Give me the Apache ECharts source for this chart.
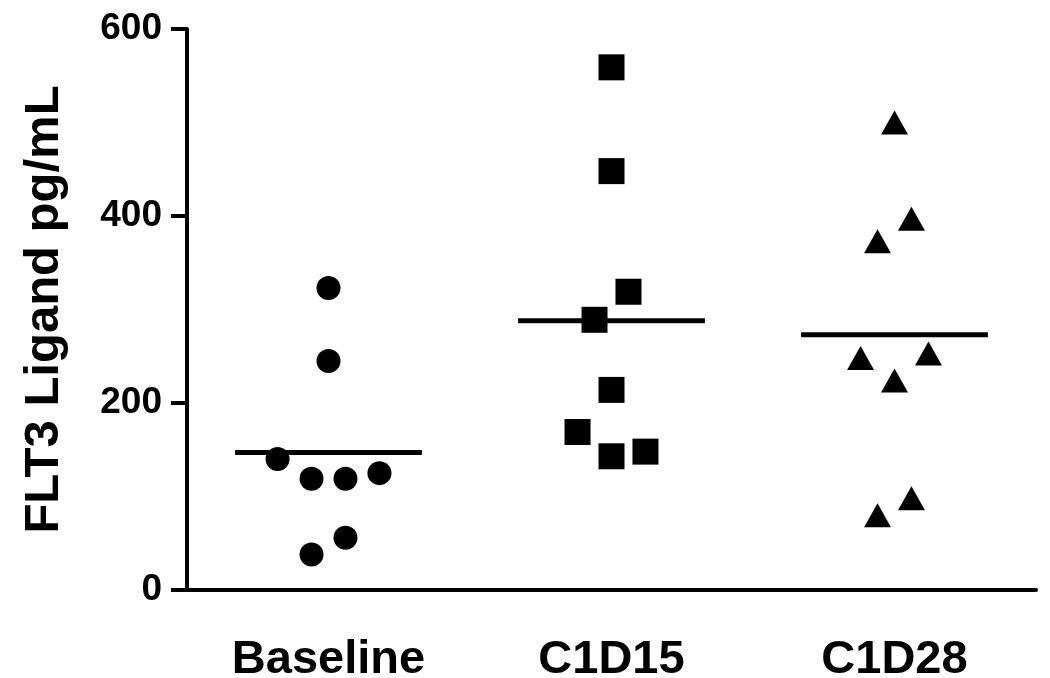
<!DOCTYPE html>
<html>
<head>
<meta charset="utf-8">
<script src="https://cdn.jsdelivr.net/npm/echarts@6/dist/echarts.min.js"></script>
<style>
  html, body { margin: 0; padding: 0; background: #fff; }
  #chart { width: 1050px; height: 678px; }
</style>
</head>
<body>
<div id="chart"></div>
<script>
// groups on the x axis
var categories = ['Baseline', 'C1D15', 'C1D28'];
// horizontal jitter of each point (fraction of a category band) and its value
var baselineJitter = [0, 0, -0.18, -0.06, 0.06, 0.18, 0.06, -0.06];
var baselineValues = [323, 245, 140, 119, 119, 125, 56, 38];
var c1d15Jitter = [0, 0, 0.06, -0.06, 0, -0.12, 0, 0.12];
var c1d15Values = [559, 448, 319, 289, 214, 169, 143, 148];
var c1d28Jitter = [0, 0.06, -0.06, -0.12, 0.12, 0, 0.06, -0.06];
var c1d28Values = [500, 397, 373, 248, 253, 224, 98, 80];
// horizontal mean lines
var meanValues = [147, 288, 273];
var yTicks = [0, 200, 400, 600];

var font = "'Liberation Sans', Arial, sans-serif";
var lineHalf = 0.33;

function points(center, jitter, values) {
  return values.map(function (v, i) { return [center + jitter[i], v]; });
}

var chart = echarts.init(document.getElementById('chart'));

var meanSeries = meanValues.map(function (m, i) {
  return {
    type: 'line',
    xAxisIndex: 1,
    symbol: 'none',
    silent: true,
    lineStyle: { color: '#000', width: 5 },
    data: [[i + 1 - lineHalf, m], [i + 1 + lineHalf, m]],
    z: 3
  };
});

var option = {
  backgroundColor: '#fff',
  animation: false,
  grid: { left: 187, right: 14, top: 29, bottom: 88, containLabel: false, outerBoundsMode: 'none' },
  xAxis: [
    {
      type: 'category',
      data: categories,
      boundaryGap: true,
      axisLine: { lineStyle: { color: '#000', width: 4 } },
      axisTick: { alignWithLabel: true, length: 16, lineStyle: { color: '#000', width: 4 } },
      axisLabel: { color: '#000', fontSize: 47, fontWeight: 'bold', fontFamily: font, margin: 47 },
      splitLine: { show: false }
    },
    {
      type: 'value',
      min: 0.5,
      max: 3.5,
      show: false
    }
  ],
  yAxis: {
    type: 'value',
    min: yTicks[0],
    max: yTicks[yTicks.length - 1],
    interval: 200,
    name: 'FLT3 Ligand pg/mL',
    nameLocation: 'middle',
    nameGap: 118,
    nameTextStyle: { color: '#000', fontSize: 49, fontWeight: 'bold', fontFamily: font },
    axisLine: { show: true, lineStyle: { color: '#000', width: 4 } },
    axisTick: { show: true, length: 16, lineStyle: { color: '#000', width: 4 } },
    axisLabel: { color: '#000', fontSize: 37, fontWeight: 'bold', fontFamily: font, margin: 25 },
    splitLine: { show: false }
  },
  series: [
    {
      type: 'scatter',
      xAxisIndex: 1,
      symbol: 'circle',
      symbolSize: 24,
      itemStyle: { color: '#000', opacity: 1 },
      data: points(1, baselineJitter, baselineValues)
    },
    {
      type: 'scatter',
      xAxisIndex: 1,
      symbol: 'rect',
      symbolSize: 26,
      itemStyle: { color: '#000', opacity: 1 },
      data: points(2, c1d15Jitter, c1d15Values)
    },
    {
      type: 'scatter',
      xAxisIndex: 1,
      symbol: 'triangle',
      symbolSize: [27, 24],
      itemStyle: { color: '#000', opacity: 1 },
      data: points(3, c1d28Jitter, c1d28Values)
    }
  ].concat(meanSeries)
};

chart.setOption(option);
</script>
</body>
</html>
